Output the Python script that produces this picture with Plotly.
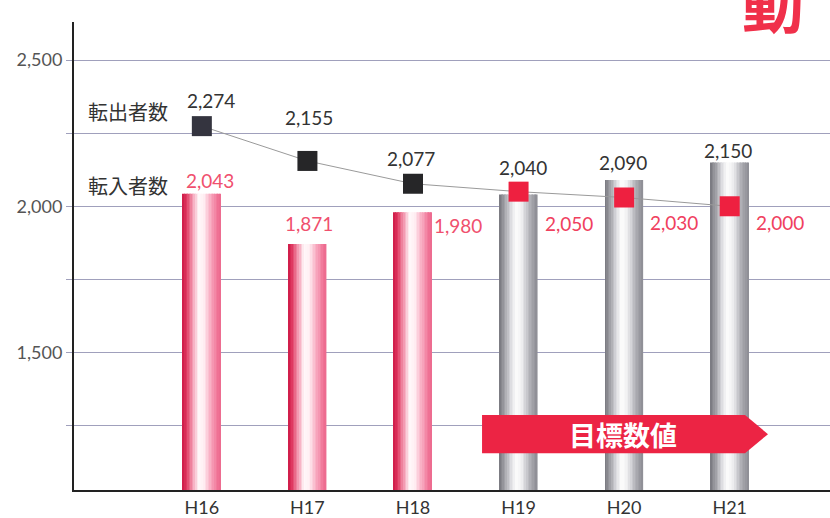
import plotly.graph_objects as go

# ---- data ----
years = ["H16", "H17", "H18", "H19", "H20", "H21"]
inflow = [2043, 1871, 1980, 2040, 2090, 2150]        # 転入者数 (bars)
outflow = [2274, 2155, 2077, 2050, 2030, 2000]       # 転出者数 (line)
inflow_labels = ["2,043", "1,871", "1,980", "2,040", "2,090", "2,150"]
outflow_labels = ["2,274", "2,155", "2,077", "2,050", "2,030", "2,000"]
y_tick_vals = [1500, 2000, 2500]
y_tick_text = ["1,500", "2,000", "2,500"]
y_minor_vals = [1250, 1750, 2250]
target_text = "目標数値"

n_actual = 3  # first three years are actual values, the rest are targets

# ---- styling helpers ----
def interp(stops, t):
    for (t0, c0), (t1, c1) in zip(stops, stops[1:]):
        if t0 <= t <= t1:
            f = (t - t0) / (t1 - t0) if t1 > t0 else 0
            c = [round(a + (b - a) * f) for a, b in zip(c0, c1)]
            return "rgb(%d,%d,%d)" % tuple(c)
    return "rgb(%d,%d,%d)" % tuple(stops[-1][1])

pink_stops = [(0.0, (205, 25, 70)), (0.1, (222, 55, 95)), (0.28, (244, 160, 182)),
              (0.42, (255, 248, 250)), (0.55, (255, 240, 244)), (0.75, (248, 170, 192)),
              (0.92, (240, 115, 150)), (1.0, (236, 105, 142))]
gray_stops = [(0.0, (118, 118, 125)), (0.12, (152, 152, 158)), (0.3, (218, 218, 222)),
              (0.45, (253, 253, 253)), (0.6, (238, 238, 240)), (0.8, (178, 178, 184)),
              (1.0, (140, 140, 147))]

fig = go.Figure()

bar_w = 0.36
n_str = 24
sw = bar_w / n_str
xs = list(range(len(years)))
for k in range(n_str):
    t = (k + 0.5) / n_str
    cols = [interp(pink_stops, t) if i < n_actual else interp(gray_stops, t) for i in xs]
    fig.add_trace(go.Bar(
        x=xs, y=inflow, width=sw * 1.25 if k < n_str - 1 else sw,
        offset=-bar_w / 2 + k * sw,
        marker=dict(color=cols, line=dict(width=0)),
        showlegend=False, hoverinfo="skip",
    ))

marker_cols = ["#34343f"] + ["#262628"] * (n_actual - 1) + ["#ee2040"] * (len(years) - n_actual)
fig.add_trace(go.Scatter(
    x=xs, y=outflow, mode="lines+markers",
    line=dict(color="#9a9a9a", width=1),
    marker=dict(symbol="square", size=20, color=marker_cols, line=dict(width=0)),
    showlegend=False, hoverinfo="skip",
))

num_font = "Lato, Noto Sans, sans-serif"
cjk_font = "Noto Sans CJK JP, sans-serif"

# bar labels
bar_shift = [(8, 13), (2, 21), (45, -13), (4, 27), (-1, 17), (-2, 12)]
for i, (v, lab) in enumerate(zip(inflow, inflow_labels)):
    dx, dy = bar_shift[i]
    fig.add_annotation(x=i, y=v, text=lab, showarrow=False, xshift=dx, yshift=dy,
                       xanchor="center", yanchor="middle",
                       font=dict(family=num_font, size=19,
                                 color="#f0506e" if i < n_actual else "#333333"))
# line labels
line_shift = [(9, 26), (2, 43), (-2, 25), (50, -32), (50, -25), (50, -16)]
for i, (v, lab) in enumerate(zip(outflow, outflow_labels)):
    dx, dy = line_shift[i]
    fig.add_annotation(x=i, y=v, text=lab, showarrow=False, xshift=dx, yshift=dy,
                       xanchor="center", yanchor="middle",
                       font=dict(family=num_font, size=19,
                                 color="#333333" if i < n_actual else "#f0405e"))

# series names
fig.add_annotation(xref="paper", yref="paper", x=(128 - 74) / 756, y=1 - (112 - 22) / 468,
                   text="転出者数", showarrow=False, xanchor="center", yanchor="middle",
                   font=dict(family=cjk_font, size=20, color="#333333"))
fig.add_annotation(xref="paper", yref="paper", x=(128 - 74) / 756, y=1 - (185 - 22) / 468,
                   text="転入者数", showarrow=False, xanchor="center", yanchor="middle",
                   font=dict(family=cjk_font, size=20, color="#333333"))

# target banner
fig.add_shape(type="path", xref="x", yref="y",
              path="M 2.654,1286 L 5.145,1286 L 5.363,1221 L 5.145,1156 L 2.654,1156 Z",
              fillcolor="#ec2444", line=dict(width=0), layer="above")
fig.add_annotation(x=3.993, y=1221, text="<b>" + target_text + "</b>", showarrow=False,
                   xanchor="center", yanchor="middle",
                   font=dict(family=cjk_font, size=27, color="white"))

# cropped title fragment at top right
fig.add_annotation(xref="paper", yref="paper", x=(773 - 74) / 756, y=1 + 21 / 468,
                   text="<b>動</b>", showarrow=False, xanchor="center", yanchor="middle",
                   font=dict(family=cjk_font, size=62, color="#f0304a"))

grid_col = "#a0a0bc"
fig.update_layout(
    width=830, height=518,
    margin=dict(l=74, r=0, t=22, b=28),
    plot_bgcolor="white", paper_bgcolor="white",
    barmode="overlay",
    font=dict(family=num_font),
    xaxis=dict(range=[-1.211, 5.95], tickvals=xs, ticktext=years, showgrid=False,
               showline=True, linecolor="#222222", linewidth=2, ticks="",
               tickfont=dict(size=18, color="#333333"), zeroline=False, fixedrange=True),
    yaxis=dict(range=[1030, 2630], tickvals=y_tick_vals, ticktext=y_tick_text,
               showgrid=True, gridcolor=grid_col, gridwidth=1,
               ticks="outside", ticklen=6, tickcolor=grid_col,
               showline=True, linecolor="#222222", linewidth=2,
               minor=dict(tickvals=y_minor_vals, showgrid=True, gridcolor=grid_col,
                          ticks="outside", ticklen=6, tickcolor=grid_col),
               tickfont=dict(size=18, color="#555555"), zeroline=False, fixedrange=True),
)

fig.write_html("out.html", config={"displayModeBar": False},
               post_script="document.body.style.margin='0';")
